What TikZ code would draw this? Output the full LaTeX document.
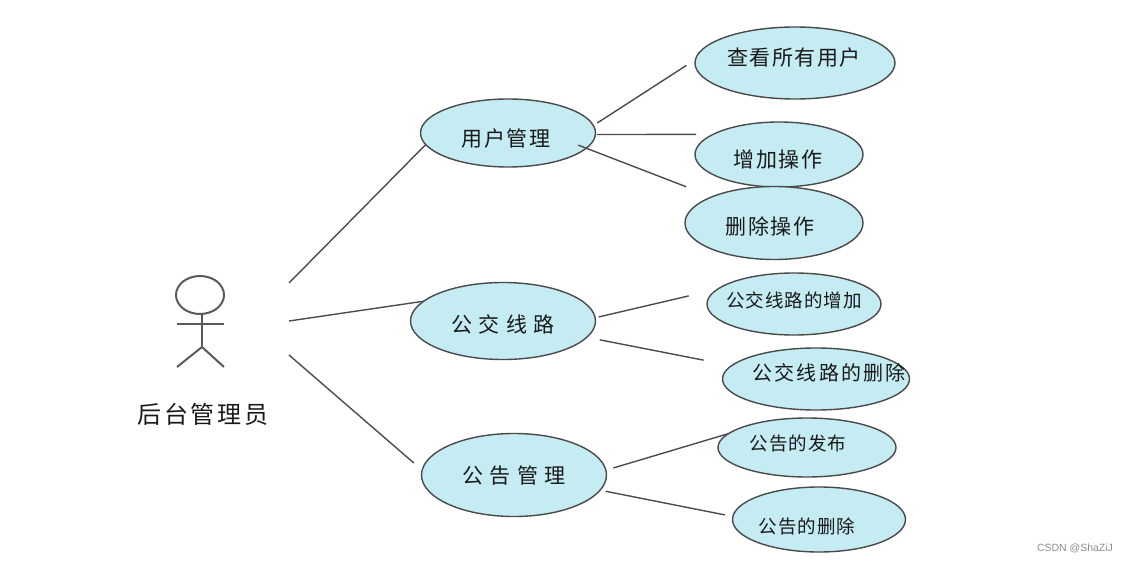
\documentclass[tikz,border=0pt]{standalone}
\usepackage{fontspec}
\setmainfont{Noto Sans CJK SC}
\newfontfamily\markfont{Liberation Sans}
\usetikzlibrary{shapes.geometric}
\definecolor{casefill}{HTML}{C5EBF3}
\definecolor{caseline}{HTML}{4A4A4A}
\newcommand{\bigcn}{\fontsize{21}{21}\selectfont\addfontfeature{LetterSpace=7}}
\newcommand{\midcn}{\fontsize{20}{20}\selectfont\addfontfeature{LetterSpace=11}}
\newcommand{\smallcn}{\fontsize{18.5}{19}\selectfont\addfontfeature{LetterSpace=5}}
\tikzset{
  usecase/.style={ellipse,draw=caseline,fill=casefill,line width=1.4pt,inner sep=0pt,outer sep=0pt},
  casetext/.style={inner sep=0pt,text=black!90},
  link/.style={draw=black!70,line width=1.4pt},
  stick/.style={draw=black!65,line width=2pt}
}

\begin{document}
\begin{tikzpicture}[x=1pt,y=-1pt]
  \useasboundingbox (0,0) rectangle (1128,562);
  % stick figure
  \draw[stick] (200,295) ellipse [x radius=24,y radius=19];
  \draw[stick] (202,314) -- (202,347);
  \draw[stick] (177,324) -- (224,324);
  \draw[stick] (177,367) -- (202,347) -- (224,367);
  \node[casetext,font=\fontsize{24}{24}\selectfont\addfontfeature{LetterSpace=12}] (admin) at (203,414) {后台管理员};
  \coordinate (adminA) at (289,283);
  \coordinate (adminB) at (289,321);
  \coordinate (adminC) at (289,355);
  % use cases
  \foreach \name/\cx/\cy/\w/\h/\tx/\ty/\fnt/\lab in {
    usr/508/133/175/68/506/139/\bigcn/{用户管理},
    bus/503/321/185/77/503/324/\bigcn/{公 交 线 路},
    notice/514/475/185/83/514/476/\bigcn/{公 告 管 理},
    see/795/63/200/72/794/58/\bigcn/{查看所有用户},
    add/779/154.5/168/65/778/160/\bigcn/{增加操作},
    del/774/223/178/73/770/226/\bigcn/{删除操作},
    busadd/794/304/174/62/794/300/\smallcn/{公交线路的增加},
    busdel/816/379/187/62/829/373/\midcn/{公交线路的删除},
    post/807/447.5/178/59/798/444/\smallcn/{公告的发布},
    noticedel/819/519.5/173/65/807/526/\smallcn/{公告的删除}}{
    \node[usecase,minimum width=\w pt,minimum height=\h pt] (\name) at (\cx,\cy) {};
    \node[casetext,font=\fnt] (\name txt) at (\tx,\ty) {\lab};
  }
  % connectors
  \draw[link] (adminA) -- (usr.188);
  \draw[link] (adminB) -- (bus.166.6);
  \draw[link,shorten >=11pt] (adminC) -- (notice.177);
  \foreach \a/\p/\s/\b/\q/\t in {
    usr/5.6/4.7/see/178/10.8,
    usr/-1.3/1.5/add/163.8/17,
    usr/-11.7/-8.5/del/157.1/27.8,
    bus/2.7/3.6/busadd/169.3/29.7,
    bus/-11/13.2/busdel/171.9/28.6,
    notice/3.6/7.8/post/170.8/0,
    notice/-10.5/5.6/noticedel/178.7/8.2}{
    \draw[link,shorten <=\s pt,shorten >=\t pt] (\a.\p) -- (\b.\q);
  }
  \node[inner sep=0pt,text=black!45,font=\markfont\fontsize{10.5}{11}\selectfont] (mark) at (1075,548) {CSDN @ShaZiJ};
\end{tikzpicture}
\end{document}
